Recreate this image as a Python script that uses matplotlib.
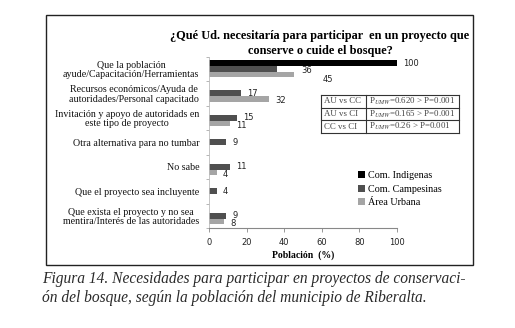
import matplotlib
matplotlib.use("Agg")
import matplotlib.pyplot as plt
from matplotlib.patches import Rectangle
from matplotlib.lines import Line2D
import numpy as np

categories = [
    "Que la población\nayude/Capacitación/Herramientas",
    "Recursos económicos/Ayuda de\nautoridades/Personal capacitado",
    "Invitación y apoyo de autoridads en\neste tipo de proyecto",
    "Otra alternativa para no tumbar",
    "No sabe",
    "Que el proyecto sea incluyente",
    "Que exista el proyecto y no sea\nmentira/Interés de las autoridades",
]
indigenas = [100, 0, 0, 0, 0, 0, 0]
campesinas = [36, 17, 15, 9, 11, 4, 9]
urbana = [45, 32, 11, 0, 4, 0, 8]
series_names = ["Com. Indigenas", "Com. Campesinas", "Área Urbana"]
xticks = [0, 20, 40, 60, 80, 100]
table_rows = [
    ("AU vs CC", "P$_{UMW}$=0.620 > P=0.001"),
    ("AU vs CI", "P$_{UMW}$=0.165 > P=0.001"),
    ("CC vs CI", "P$_{UMW}$=0.26 > P=0.001"),
]
title = "¿Qué Ud. necesitaría para participar  en un proyecto que\nconserve o cuide el bosque?"
caption = ("Figura 14. Necesidades para participar en proyectos de conservaci-\n"
           "ón del bosque, según la población del municipio de Riberalta.")

plt.rcParams["mathtext.fontset"] = "stix"
W, H = 515, 328
fig = plt.figure(figsize=(W / 100, H / 100), dpi=100)
fig.patch.set_facecolor("white")

ax = fig.add_axes([209 / W, 1 - 228 / H, 188 / W, (228 - 56.5) / H])
n = len(categories)
y = np.arange(n)
h = 0.23
colors = ["#000000", "#4f4f4f", "#a5a5a5"]
series = [indigenas, campesinas, urbana]
offsets = [-h, 0, h]
bars = []
for vals, off, c in zip(series, offsets, colors):
    b = ax.barh(y + off, vals, height=h, color=c, edgecolor="none")
    bars.append(b)

# data labels (offset in points; first group labels were moved in the original)
lab_dx = {(1, 0): 18, (2, 0): 21}
lab_dy = {1: 0.0, 2: -1.5}
num_font = dict(fontsize=6.0, family="DejaVu Sans", color="#222222")
for si, vals in enumerate(series):
    for ci, v in enumerate(vals):
        if v <= 0:
            continue
        dx = lab_dx.get((si, ci), 4.5)
        dy = lab_dy.get(si, 0)
        if si == 2 and ci == 0:
            dy = -4
        if si == 1 and ci == 0:
            dy = -1
        ax.annotate(str(v), (v, y[ci] + offsets[si]), xytext=(dx, dy),
                    textcoords="offset points", va="center", ha="left", **num_font)

ax.set_xlim(0, 100)
ax.set_ylim(n - 0.5, -0.5)
ax.set_xticks(xticks)
ax.set_xticklabels([str(t) for t in xticks], **num_font)
ax.set_yticks(y)
ax.set_yticklabels(categories, fontsize=7.2, family="Liberation Serif", color="#111111")
ax.set_yticks(np.arange(n + 1) - 0.5, minor=True)
ax.tick_params(axis="y", which="major", length=0, pad=7)
ax.tick_params(axis="y", which="minor", length=2, color="#aaaaaa", width=0.6)
ax.tick_params(axis="x", which="major", length=3, color="#888888", width=0.6, pad=4)
for s in ["top", "right"]:
    ax.spines[s].set_visible(False)
ax.spines["left"].set_color("#bbbbbb")
ax.spines["left"].set_linewidth(0.6)
ax.spines["bottom"].set_color("#888888")
ax.spines["bottom"].set_linewidth(0.8)
for lbl in ax.get_yticklabels():
    lbl.set_multialignment("center")
    lbl.set_linespacing(1.1)
ax.set_xlabel("Población  (%)", fontsize=7, family="Liberation Serif", fontweight="bold", labelpad=3)

# title
fig.text(320 / W, 1 - 43.5 / H, title, ha="center", va="center", fontsize=8.85,
         family="Liberation Serif", fontweight="bold", linespacing=1.4)

# table
tx0, tx1, tx2 = 321, 366, 459
ty0, ty1 = 95, 133
rh = (ty1 - ty0) / 3
for i in range(4):
    fig.add_artist(Line2D([tx0 / W, tx2 / W], [1 - (ty0 + i * rh) / H] * 2,
                          color="#333333", lw=0.8, transform=fig.transFigure))
for xx in (tx0, tx1, tx2):
    fig.add_artist(Line2D([xx / W] * 2, [1 - ty0 / H, 1 - ty1 / H],
                          color="#333333", lw=0.8, transform=fig.transFigure))
for i, (a, b) in enumerate(table_rows):
    yc = 1 - (ty0 + (i + 0.5) * rh) / H
    fig.text((tx0 + 3) / W, yc, a, ha="left", va="center", fontsize=6.4,
             family="Liberation Serif", color="#444444")
    fig.text((tx1 + 3) / W, yc, b, ha="left", va="center", fontsize=6.4,
             family="Liberation Serif", color="#444444")

# legend
leg = ax.legend(bars, series_names, loc="upper left", bbox_to_anchor=(354 / W, 1 - 167 / H),
                bbox_transform=fig.transFigure, frameon=False, handlelength=0.7,
                handleheight=0.7, handletextpad=0.3, labelspacing=0.45,
                prop={"family": "Liberation Serif", "size": 7.3}, borderaxespad=0)

# outer frame
fig.add_artist(Rectangle((45.5 / W, 1 - 264.5 / H), (473 - 45.5) / W, (264.5 - 15) / H,
                         fill=False, edgecolor="#222222", lw=1.0, transform=fig.transFigure))

# caption
fig.text(42 / W, 1 - 288.5 / H, caption, ha="left", va="center", fontsize=11.2,
         family="Liberation Serif", style="italic", color="#2a2a2a", linespacing=1.32)

fig.savefig("out.png", dpi=100, facecolor="white")
